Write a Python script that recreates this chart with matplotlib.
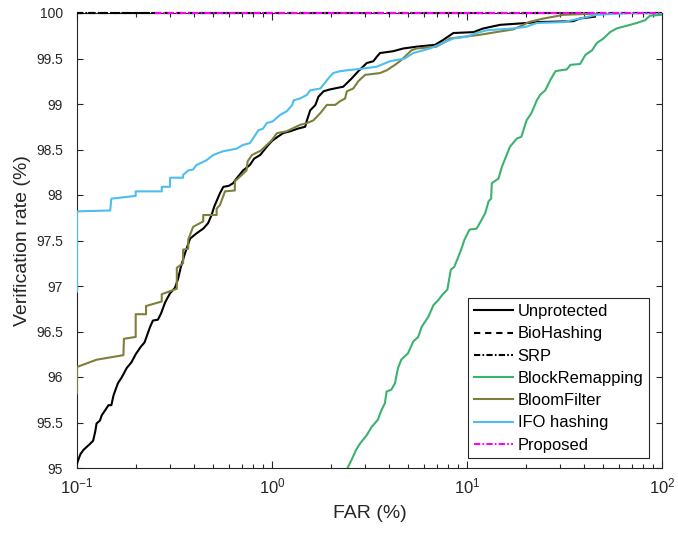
import matplotlib
matplotlib.use("Agg")
import matplotlib.pyplot as plt
from matplotlib.ticker import FixedLocator, LogLocator, NullFormatter

plt.rcParams['font.family'] = ['Liberation Sans', 'DejaVu Sans']
plt.rcParams['mathtext.fontset'] = 'custom'
plt.rcParams['mathtext.rm'] = 'Liberation Sans'
plt.rcParams['mathtext.it'] = 'Liberation Sans:italic'
plt.rcParams['lines.scale_dashes'] = False

# ---------------- data ----------------
unp_far = [0.100, 0.104, 0.108, 0.116, 0.121, 0.124, 0.126, 0.131, 0.134, 0.140, 0.145, 0.150,
           0.154, 0.162, 0.170, 0.180, 0.190, 0.200, 0.212, 0.222, 0.228, 0.237, 0.245, 0.260,
           0.270, 0.283, 0.300, 0.318, 0.330, 0.340, 0.358, 0.380, 0.395, 0.411, 0.430, 0.444,
           0.470, 0.490, 0.505, 0.541, 0.563, 0.600, 0.632, 0.657, 0.711, 0.770, 0.810, 0.870,
           0.940, 0.995, 1.07, 1.14, 1.24, 1.36, 1.48, 1.51, 1.57, 1.67, 1.73, 1.84, 1.98,
           2.32, 2.45, 2.56, 2.77, 3.06, 3.31, 3.45, 3.58, 4.18, 4.71, 5.52, 6.85, 7.5, 8.51,
           10.8, 12.1, 14.8, 17.3, 20.2, 22.8, 35.1, 38.0, 45.3]
unp_vr = [95.05, 95.15, 95.20, 95.26, 95.30, 95.40, 95.49, 95.52, 95.58, 95.64, 95.69, 95.69,
          95.80, 95.93, 96.00, 96.10, 96.16, 96.25, 96.33, 96.38, 96.45, 96.55, 96.62, 96.63,
          96.70, 96.82, 96.92, 96.98, 97.08, 97.20, 97.36, 97.52, 97.55, 97.58, 97.61, 97.63,
          97.69, 97.78, 97.87, 98.02, 98.09, 98.10, 98.13, 98.18, 98.27, 98.33, 98.40, 98.44,
          98.53, 98.59, 98.64, 98.68, 98.70, 98.73, 98.75, 98.82, 98.93, 98.99, 99.08, 99.14, 99.16,
          99.19, 99.24, 99.28, 99.36, 99.45, 99.47, 99.52, 99.56, 99.58, 99.61, 99.63, 99.65, 99.70, 99.78,
          99.79, 99.83, 99.87, 99.88, 99.89, 99.90, 99.91, 99.94, 99.96]

flat_far = [0.1, 100.0]
flat_vr = [100.0, 100.0]
prop_far = [0.25, 100.0]
prop_vr = [100.0, 100.0]

block_far = [2.40, 2.44, 2.56, 2.70, 2.83, 3.06, 3.24, 3.49, 3.65, 3.79, 3.87, 4.09, 4.27, 4.43,
             4.60, 4.98, 5.30, 5.62, 5.85, 6.33, 6.73, 7.16, 7.45, 7.93, 8.26, 8.60, 8.95, 9.33,
             9.71, 10.3, 11.2, 11.9, 12.4, 12.9, 13.3, 13.4, 14.5, 15.1, 15.7, 16.6, 18.0, 19.0,
             20.2, 21.4, 22.8, 23.7, 25.2, 26.7, 28.4, 30.1, 32.5, 33.9, 38.0, 40.5, 43.8, 46.3,
             50.1, 54.2, 58.5, 68.6, 74.2, 81.8, 86.8, 99.0, 100.0]
block_vr = [94.90, 95.00, 95.09, 95.20, 95.27, 95.36, 95.45, 95.53, 95.64, 95.71, 95.84, 95.86, 95.93, 96.10,
            96.19, 96.26, 96.39, 96.44, 96.55, 96.66, 96.79, 96.85, 96.90, 96.96, 97.18, 97.21, 97.30, 97.40,
            97.51, 97.62, 97.63, 97.73, 97.80, 97.93, 97.96, 98.13, 98.18, 98.31, 98.40, 98.53, 98.62, 98.64,
            98.82, 98.90, 99.04, 99.10, 99.15, 99.26, 99.36, 99.37, 99.38, 99.43, 99.44, 99.54, 99.59, 99.67,
            99.72, 99.79, 99.83, 99.87, 99.89, 99.92, 99.97, 99.98, 100.0]

bloom_far = [0.100, 0.100, 0.126, 0.173, 0.174, 0.200, 0.200, 0.226, 0.226, 0.272, 0.272, 0.325,
             0.325, 0.350, 0.350, 0.372, 0.372, 0.394, 0.444, 0.444, 0.520, 0.520, 0.541, 0.574,
             0.645, 0.645, 0.700, 0.740, 0.750, 0.790, 0.880, 0.940, 0.995, 1.06, 1.19, 1.27, 1.39,
             1.51, 1.63, 1.77, 1.91, 2.11, 2.23, 2.37, 2.42, 2.61, 2.77, 3.00, 3.58, 3.87, 4.27,
             4.53, 4.80, 5.19, 5.52, 6.97, 7.53, 8.18, 11.6, 14.1, 17.3, 19.5, 20.7, 24.8, 31.3,
             41.3, 50.0, 100.0]
bloom_vr = [95.82, 96.11, 96.19, 96.24, 96.42, 96.44, 96.69, 96.69, 96.78, 96.83, 96.91, 96.97,
            97.20, 97.25, 97.40, 97.41, 97.51, 97.65, 97.71, 97.78, 97.78, 97.85, 97.89, 98.04,
            98.05, 98.15, 98.22, 98.27, 98.37, 98.44, 98.49, 98.55, 98.60, 98.68, 98.70, 98.73, 98.77,
            98.79, 98.82, 98.90, 98.99, 98.99, 99.03, 99.06, 99.14, 99.17, 99.25, 99.32, 99.34, 99.37, 99.43,
            99.47, 99.52, 99.59, 99.61, 99.63, 99.67, 99.72, 99.76, 99.79, 99.82, 99.87, 99.90, 99.94, 99.98,
            99.99, 100.0, 100.0]

ifo_far = [0.100, 0.100, 0.148, 0.150, 0.200, 0.200, 0.272, 0.272, 0.300, 0.300, 0.350, 0.350,
           0.372, 0.394, 0.41, 0.46, 0.50, 0.56, 0.66, 0.71, 0.77, 0.81, 0.85, 0.90, 0.94, 1.01,
           1.10, 1.19, 1.27, 1.29, 1.39, 1.51, 1.57, 1.77, 1.91, 1.98, 2.06, 2.23, 2.42, 2.94,
           3.44, 4.03, 4.80, 5.30, 6.46, 7.53, 8.51, 9.96, 11.2, 12.6, 17.3, 20.2, 22.8, 31.3,
           38.0, 46.3, 68.0, 100.0]
ifo_vr = [96.94, 97.82, 97.83, 97.96, 97.99, 98.04, 98.04, 98.09, 98.09, 98.19, 98.19, 98.22,
          98.27, 98.28, 98.33, 98.38, 98.44, 98.48, 98.51, 98.55, 98.57, 98.64, 98.71, 98.73, 98.79, 98.81,
          98.88, 98.92, 98.99, 99.04, 99.06, 99.10, 99.15, 99.17, 99.26, 99.30, 99.34, 99.36, 99.37, 99.39,
          99.41, 99.47, 99.50, 99.56, 99.61, 99.67, 99.72, 99.74, 99.78, 99.81, 99.83, 99.85, 99.89, 99.90,
          99.94, 99.98, 100.0, 100.0]

labels = ['Unprotected', 'BioHashing', 'SRP', 'BlockRemapping', 'BloomFilter', 'IFO hashing', 'Proposed']
y_ticks = [95, 95.5, 96, 96.5, 97, 97.5, 98, 98.5, 99, 99.5, 100]
y_tick_labels = ['95', '95.5', '96', '96.5', '97', '97.5', '98', '98.5', '99', '99.5', '100']

# ---------------- plot ----------------
fig = plt.figure(figsize=(6.78, 5.41), dpi=100)
ax = fig.add_axes([77 / 678, 1 - 468 / 541, 585 / 678, 455 / 541])

lw = 1.5
dash = (0, (4.5, 3.5))
dashdot = (0, (4.5, 1.6, 1.2, 1.6))

ax.plot(unp_far, unp_vr, color='black', lw=lw, label=labels[0], zorder=3)
ax.plot(flat_far, flat_vr, color='black', lw=lw, linestyle=dash, label=labels[1], clip_on=False, zorder=3)
ax.plot(flat_far, flat_vr, color='black', lw=lw, linestyle=dashdot, label=labels[2], clip_on=False, zorder=3)
ax.plot(block_far, block_vr, color='#3BB36E', lw=lw, label=labels[3], zorder=3)
ax.plot(bloom_far, bloom_vr, color='#7F7F3C', lw=lw, label=labels[4], zorder=3)
ax.plot(ifo_far, ifo_vr, color='#4DBEEE', lw=lw, label=labels[5], zorder=3)
ax.plot(prop_far, prop_vr, color='#FF00FF', lw=lw, linestyle=dashdot, label=labels[6], clip_on=False, zorder=3)

ax.set_xscale('log')
ax.set_xlim(0.1, 100)
ax.set_ylim(95, 100)
ax.yaxis.set_major_locator(FixedLocator(y_ticks))
ax.set_yticklabels(y_tick_labels)
ax.xaxis.set_major_locator(LogLocator(base=10, numticks=10))
ax.xaxis.set_minor_locator(LogLocator(base=10, subs=range(2, 10), numticks=20))
ax.xaxis.set_minor_formatter(NullFormatter())

axcol = '#262626'
for s in ax.spines.values():
    s.set_color(axcol)
    s.set_linewidth(0.8)
ax.tick_params(axis='both', which='both', direction='in', top=True, right=True,
               colors=axcol, labelsize=10, width=0.8)
ax.tick_params(axis='x', which='major', length=5, pad=6, labelsize=12)
ax.tick_params(axis='x', which='minor', length=3)
ax.tick_params(axis='y', which='major', length=4, pad=10)
ax.set_xlabel('FAR (%)', fontsize=14, color=axcol, labelpad=6)
ax.set_ylabel('Verification rate (%)', fontsize=14, color=axcol, labelpad=4)

leg = ax.legend(loc='lower right', bbox_to_anchor=(0.978, 0.021), borderaxespad=0,
                fontsize=11.9, handlelength=2.36, handletextpad=0.3, borderpad=0.35,
                labelspacing=0.44, fancybox=False, framealpha=1, edgecolor=axcol)
leg.get_frame().set_linewidth(0.8)
leg.set_zorder(5)

fig.savefig('out.png', dpi=100)
